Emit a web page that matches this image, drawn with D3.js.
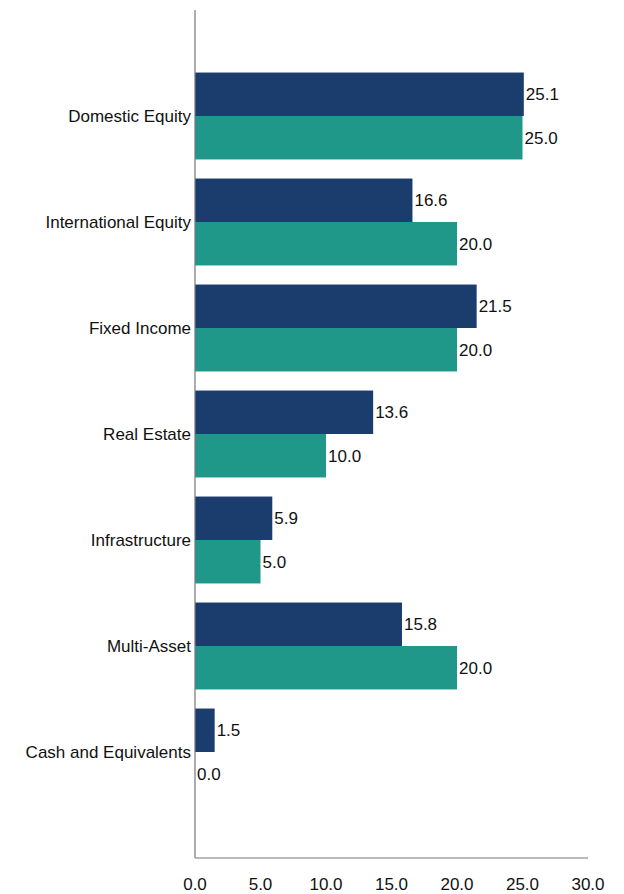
<!DOCTYPE html>
<html>
<head>
<meta charset="utf-8">
<script src="https://cdn.jsdelivr.net/npm/d3@7"></script>
<style>
  body { margin: 0; background: #fff; }
  text { font-family: "Liberation Sans", Arial, sans-serif; fill: #111; }
</style>
</head>
<body>
<div id="chart"></div>
<script>
// asset classes, top to bottom
const categories = ['Domestic Equity', 'International Equity', 'Fixed Income', 'Real Estate',
                    'Infrastructure', 'Multi-Asset', 'Cash and Equivalents'];
const actual = [25.1, 16.6, 21.5, 13.6, 5.9, 15.8, 1.5];
const target = [25.0, 20.0, 20.0, 10.0, 5.0, 20.0, 0.0];
const xTicks = [0, 5, 10, 15, 20, 25, 30];

const W = 624, H = 894;
const plotL = 195, plotR = 588, plotT = 10, plotB = 858;
const fs = '17px';

const svg = d3.select('#chart').append('svg')
    .attr('width', W).attr('height', H);

const x = d3.scaleLinear().domain([0, 30]).range([plotL, plotR]);
// one empty slot below the last category, like the original
const y = d3.scaleLinear().domain([0, categories.length + 1]).range([plotT, plotB]);
const step = y(1) - y(0);
const barH = step * 0.41;

const rows = categories.map((c, i) => ({ c, i, a: actual[i], t: target[i] }));

const g = svg.append('g');

const series = [
    { key: 'a', color: '#1a3d6e', off: -barH },
    { key: 't', color: '#1f988a', off: 0 }
];

series.forEach(s => {
    g.selectAll(null).data(rows).join('rect')
        .attr('x', x(0))
        .attr('y', d => y(d.i + 1) + s.off)
        .attr('width', d => x(d[s.key]) - x(0))
        .attr('height', barH)
        .attr('fill', s.color);

    g.selectAll(null).data(rows).join('text')
        .attr('x', d => x(d[s.key]) + 2)
        .attr('y', d => y(d.i + 1) + s.off + barH / 2)
        .attr('dy', '0.35em')
        .style('font-size', fs)
        .text(d => d[s.key].toFixed(1));
});

// category labels
g.selectAll(null).data(rows).join('text')
    .attr('x', plotL - 4)
    .attr('y', d => y(d.i + 1))
    .attr('dy', '0.35em')
    .attr('text-anchor', 'end')
    .style('font-size', fs)
    .text(d => d.c);

// axes lines
svg.append('line')
    .attr('x1', plotL).attr('x2', plotL).attr('y1', plotT).attr('y2', plotB)
    .attr('stroke', '#777').attr('stroke-width', 1.2);
svg.append('line')
    .attr('x1', plotL).attr('x2', plotR).attr('y1', plotB).attr('y2', plotB)
    .attr('stroke', '#777').attr('stroke-width', 1.2);

svg.append('g').selectAll('text').data(xTicks).join('text')
    .attr('x', d => x(d))
    .attr('y', 884)
    .attr('dy', '0.35em')
    .attr('text-anchor', 'middle')
    .style('font-size', fs)
    .text(d => d.toFixed(1));
</script>
</body>
</html>
